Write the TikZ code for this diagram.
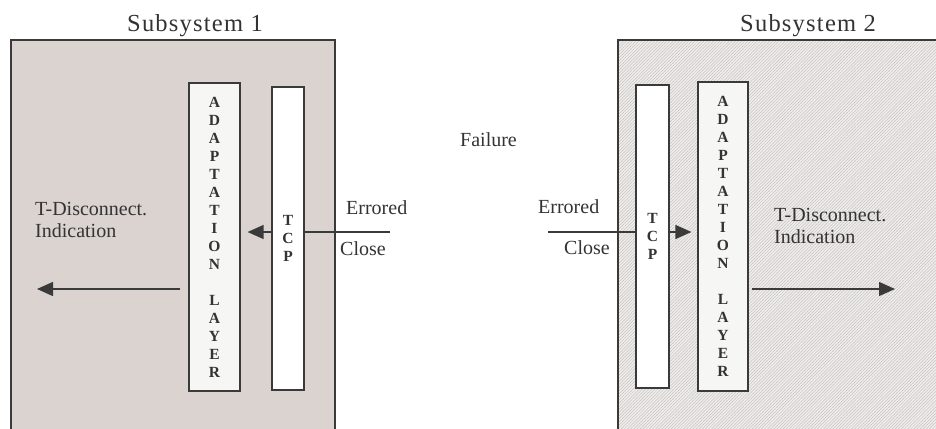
\documentclass[tikz,border=0pt]{standalone}
\usepackage{fontspec}
\setmainfont{Liberation Serif}
\usepackage{tikz}
\usetikzlibrary{positioning,arrows.meta,patterns.meta}
\definecolor{ink}{HTML}{3A3A3A}
\definecolor{txt}{HTML}{333333}
\definecolor{sysfill}{HTML}{DAD3D0}
\definecolor{hatchbg}{HTML}{F0EEEC}
\definecolor{hatchln}{HTML}{C4C0BD}
\definecolor{layfill}{HTML}{F6F6F4}
\newcommand{\vlet}{\fontsize{15.5}{18}\selectfont\bfseries}
\tikzset{
  sysbox/.style={draw=ink,line width=1.2pt,minimum height=400pt,inner sep=0pt},
  layerbox/.style={draw=ink,line width=1.2pt,fill=layfill,minimum width=51pt,minimum height=308pt,inner sep=0pt,align=center,font=\vlet,text=txt},
  tcpbox/.style={draw=ink,line width=1.2pt,fill=white,minimum width=32pt,minimum height=303pt,inner sep=0pt,align=center,font=\vlet,text=txt},
  lbl/.style={font=\fontsize{20}{22}\selectfont,text=txt,inner sep=0pt,anchor=base west,align=left},
  ttl/.style={font=\fontsize{24.5}{28}\selectfont\addfontfeature{LetterSpace=5},text=txt,inner sep=0pt,anchor=base west},
  line/.style={ink,line width=1.4pt},
  arr/.style={-{Triangle[length=16pt,width=14pt]},ink,line width=1.4pt},
}
\begin{document}
\begin{tikzpicture}[x=1pt,y=-1pt]
\useasboundingbox (0,0) rectangle (936,428);
% subsystems
\node[sysbox,fill=sysfill,minimum width=324pt] (s1) at (173,240) {};
\node[sysbox,minimum width=332pt,preaction={fill=hatchbg},pattern={Lines[angle=45,distance=2.2pt,line width=0.5pt]},pattern color=hatchln] (s2) at (784,240) {};
\node[ttl] (t1) at (127,32) {Subsystem 1};
\node[ttl] (t2) at (740,32) {Subsystem 2};
% layers
\node[layerbox] (ad1) at (214.5,237) {A\\D\\A\\P\\T\\A\\T\\I\\O\\N\\[18pt]L\\A\\Y\\E\\R};
\node[tcpbox] (tcp1) at (288,238.5) {T\\C\\P};
\node[tcpbox,minimum width=33pt] (tcp2) at (652.5,236.5) {T\\C\\P};
\node[layerbox,minimum width=50pt,minimum height=309pt] (ad2) at (723,236.5) {A\\D\\A\\P\\T\\A\\T\\I\\O\\N\\[18pt]L\\A\\Y\\E\\R};
% labels
\node[lbl] (fail) at (460,146.5) {Failure};
\node[lbl] (err1) at (346,214) {Errored};
\node[lbl] (cls1) at (340,255) {Close};
\node[lbl] (err2) at (538,213) {Errored};
\node[lbl] (cls2) at (564,254) {Close};
\node[lbl] (ind1) at (35,237) {T-Disconnect.\\Indication};
\node[lbl] (ind2) at (774,243) {T-Disconnect.\\Indication};
% connectors
\coordinate (in1) at (390,232);
\coordinate (in2) at (548,232);
\coordinate (out1) at (37,289);
\coordinate (out2) at (895,289);
\draw[line] (in1) -- (in1 -| tcp1.east);
\draw[arr,shorten >=7pt] (in1 -| tcp1.west) -- (in1 -| ad1.east);
\draw[line] (in2) -- (in2 -| tcp2.west);
\draw[arr,shorten >=6pt] (in2 -| tcp2.east) -- (in2 -| ad2.west);
\draw[arr,shorten <=8pt] (out1 -| ad1.west) -- (out1);
\draw[arr,shorten <=3pt] (out2 -| ad2.east) -- (out2);
\end{tikzpicture}
\end{document}
